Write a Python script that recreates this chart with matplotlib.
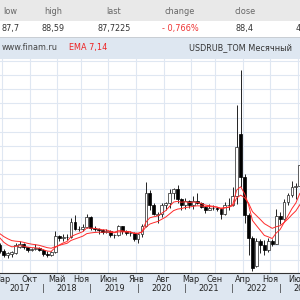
import numpy as np
import pandas as pd
import matplotlib.pyplot as plt
from matplotlib.patches import Rectangle
from matplotlib.transforms import blended_transform_factory

# monthly USDRUB_TOM candles, Feb 2017 .. Jun 2023
months = pd.period_range('2017-02', '2023-06', freq='M')

opens = [60.3, 58.0, 56.5, 56.9, 57.3, 59.6, 60.6, 59.3, 58.4, 58.6, 59.0,
         58.4, 57.0, 56.7, 57.6, 63.3, 62.7, 63.1, 62.9, 68.3, 65.6, 65.9, 66.6,
         69.9, 66.0, 65.6, 65.3, 64.6, 65.2, 63.6, 63.7, 66.7, 65.0, 64.2, 64.5,
         62.4, 63.9, 66.9, 78.6, 74.2, 70.6, 71.1, 74.3, 74.9, 78.4, 79.8, 76.3,
         74.3, 75.8, 74.4, 75.6, 75.0, 73.5, 72.6, 73.3, 73.1, 72.7, 71.0, 74.2,
         74.4, 77.5, 99.2, 84.0, 70.8, 62.6, 52.8, 61.6, 60.1, 58.3, 61.5, 60.6,
         70.4, 69.3, 75.3, 77.7, 80.5, 80.9]
highs = [60.8, 58.9, 57.6, 58.2, 60.8, 61.4, 61.0, 59.6, 59.2, 60.6, 59.6,
         58.7, 58.0, 58.2, 65.0, 63.8, 63.9, 64.0, 69.6, 70.6, 66.9, 67.6, 71.2,
         70.3, 66.7, 66.1, 65.6, 65.7, 65.3, 64.0, 67.2, 67.0, 65.3, 64.9, 64.8,
         64.0, 67.6, 82.2, 79.5, 75.1, 71.8, 74.9, 75.3, 79.8, 80.3, 81.3, 76.6,
         76.6, 76.0, 77.4, 78.5, 75.2, 74.0, 74.5, 74.2, 73.6, 73.0, 75.4, 76.8,
         80.5, 109.4, 121.8, 85.0, 71.3, 63.2, 62.6, 62.4, 61.8, 62.6, 62.1, 72.8,
         71.6, 76.2, 78.3, 82.8, 81.9, 89.9]
lows = [57.4, 56.0, 55.7, 56.0, 57.0, 59.0, 58.8, 57.6, 57.9, 58.3, 58.1,
        56.4, 56.0, 56.4, 57.2, 61.4, 61.5, 62.0, 62.5, 65.3, 65.0, 65.2, 66.3,
        65.3, 65.0, 64.0, 63.9, 64.2, 62.9, 62.7, 63.3, 64.0, 63.6, 63.4, 61.6,
        60.9, 63.1, 66.4, 72.6, 70.8, 68.0, 69.9, 72.5, 73.1, 76.5, 75.0, 72.6,
        72.9, 73.0, 72.9, 74.5, 73.0, 71.5, 72.3, 72.6, 72.0, 69.4, 70.6, 72.5,
        74.0, 74.7, 80.5, 67.8, 56.5, 51.0, 52.4, 57.2, 56.5, 57.6, 59.8, 60.4,
        67.6, 68.9, 74.3, 77.2, 76.5, 80.3]
closes = [58.0, 56.5, 57.3, 57.6, 60.1, 60.6, 59.3, 58.4, 58.6, 59.0, 58.5,
          56.9, 56.6, 57.6, 63.3, 62.7, 63.1, 62.9, 68.3, 65.6, 65.9, 66.6, 69.9,
          66.0, 65.6, 65.3, 64.6, 65.2, 63.6, 63.7, 66.7, 65.0, 64.2, 64.5, 62.4,
          63.9, 66.9, 78.5, 74.2, 71.2, 71.1, 74.3, 74.9, 78.4, 79.7, 76.3, 74.3,
          75.8, 74.4, 75.6, 75.0, 73.5, 72.6, 73.3, 73.1, 72.7, 71.0, 74.2, 74.4,
          77.5, 94.6, 84.0, 70.8, 62.6, 52.2, 61.6, 60.1, 58.3, 61.5, 60.6, 70.2,
          69.3, 75.3, 77.7, 80.5, 80.9, 88.4]

# EMA levels at the first visible month
ema_seed = {7: 62.6, 14: 64.1}

tick_months = ['2017-03', '2017-10', '2018-05', '2018-11', '2019-06', '2020-01',
               '2020-08', '2021-03', '2021-09', '2022-04', '2022-11', '2023-06']
tick_names = ['Мар', 'Окт', 'Май', 'Ноя', 'Июн', 'Янв',
              'Авг', 'Мар', 'Сен', 'Апр', 'Ноя', 'Июн']
years = [2017, 2018, 2019, 2020, 2021, 2022, 2023]

head_labels = ['low', 'high', 'last', 'change', 'close']
head_values = ['87,7', '88,59', '87,7225', '- 0,766%', '88,4']


def ema(vals, span, seed):
    a = 2.0 / (span + 1)
    out = [seed]
    for v in vals[1:]:
        out.append(out[-1] + a * (v - out[-1]))
    return np.array(out)


# month number relative to Mar 2017
base = pd.Period('2017-03', freq='M')
def mpos(p):
    return (pd.Period(p, freq='M') - base).n

x = np.array([(p - base).n for p in months])
o, h, l, c = map(np.array, (opens, highs, lows, closes))

W = 300
def fy(px):
    return 1 - px / W

fig = plt.figure(figsize=(3, 3), dpi=100)
fig.patch.set_facecolor('white')

# header / footer bands (behind everything)
for y0, hh, col in [(20.5, 20.5, '#e9e9e9'), (58.5, 22, '#dee7f1'), (300, 27, '#dee7f1')]:
    fig.add_artist(Rectangle((0, fy(y0)), 1, hh / W, transform=fig.transFigure,
                             facecolor=col, edgecolor='none', zorder=-10))
fig.add_artist(plt.Line2D([0, 1], [fy(36.7), fy(36.7)], transform=fig.transFigure,
                          color='#c9ced4', lw=0.7, zorder=-9))

fs = 5.9
head_x = [10, 53, 114, 180, 245]
for xx, lab, val in zip(head_x, head_labels, head_values):
    fig.text(xx / W, fy(11), lab, ha='center', va='center', fontsize=fs, color='#666666')
    fig.text(xx / W, fy(28.5), val, ha='center', va='center', fontsize=fs,
             color='#ee3333' if val.startswith('-') else '#333333')
fig.text(296 / W, fy(28.5), '4', ha='left', va='center', fontsize=fs, color='#333333')

fig.text(2 / W, fy(47.5), 'www.finam.ru', ha='left', va='center', fontsize=fs, color='#444444')
fig.text(69 / W, fy(47.5), 'EMA 7,14', ha='left', va='center', fontsize=fs, color='#ee2222')
fig.text(292 / W, fy(47.5), 'USDRUB_TOM Месячный', ha='right', va='center',
         fontsize=fs, color='#333333')

ax = fig.add_axes([0, fy(273), 1, (273 - 58.5) / W])
ax.set_xlim(-0.99, 75.04)
ax.set_ylim(50.28, 125.81)

up = c >= o
ax.vlines(x, l, h, color='#222222', lw=0.7, zorder=2)
ax.bar(x[up], np.maximum(c[up] - o[up], 0.15), bottom=o[up], width=0.72,
       color='white', edgecolor='#222222', linewidth=0.5, zorder=3)
ax.bar(x[~up], o[~up] - c[~up], bottom=c[~up], width=0.72,
       color='black', edgecolor='black', linewidth=0.5, zorder=3)

ax.plot(x, ema(closes, 7, ema_seed[7]), color='#ff2b2b', lw=0.7, zorder=4)
ax.plot(x, ema(closes, 14, ema_seed[14]), color='#ff2b2b', lw=0.7, zorder=4)

ax.set_yticks(np.arange(55, 126, 5))
ax.set_xticks([mpos(p) - 0.5 for p in tick_months], tick_names)
ax.tick_params(axis='y', length=0, labelleft=False)
ax.tick_params(axis='x', length=0, pad=1.5, labelsize=fs, labelcolor='#222222')
ax.grid(True, color='#dfe7f2', lw=0.8)
ax.set_axisbelow(True)
for s in ['left', 'right', 'top']:
    ax.spines[s].set_visible(False)
ax.spines['bottom'].set_color('#333333')
ax.spines['bottom'].set_linewidth(0.8)

trans = blended_transform_factory(ax.transData, fig.transFigure)
for y in years:
    jan = mpos(f'{y}-01')
    ax.text(jan + 6, fy(288.5), str(y), transform=trans, ha='center', va='center',
            fontsize=fs, color='#222222')
    if y > 2017:
        ax.text(jan, fy(288.5), '|', transform=trans, ha='center', va='center',
                fontsize=fs, color='#222222')

fig.savefig('out.png', dpi=100)
